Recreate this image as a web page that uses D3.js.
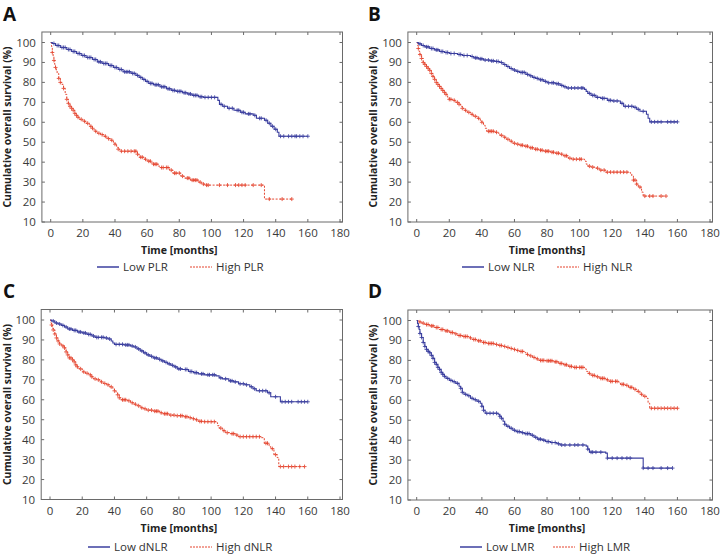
<!DOCTYPE html>
<html>
<head>
<meta charset="utf-8">
<script src="https://cdn.jsdelivr.net/npm/d3@7"></script>
<style>
  body { margin: 0; background: #fff; }
  svg { display: block; font-family: "Open Sans", sans-serif; }
</style>
</head>
<body>
<div id="chart"></div>
<script>
// tick values
var xTicks = [0, 20, 40, 60, 80, 100, 120, 140, 160, 180];
var yTicks = [10, 20, 30, 40, 50, 60, 70, 80, 90, 100];

// Kaplan-Meier steps: [month, survival %]
var lowPLR = [[0,100],[1,99.5],[3,98.5],[6,97.5],[10,96.5],[13,95.5],[16,94.5],[19,93.5],[22,92.5],[26,91.5],[29,90.3],[32,89.5],[36,88.5],[39,87.5],[42,86.5],[45,85.3],[50,84.5],[53,83.5],[55,82.5],[57,81.5],[59,80.5],[61,79.5],[64,78.8],[68,77.8],[72,76.8],[75,76],[78,75.5],[82,74.8],[85,74.2],[88,73.5],[92,72.8],[95,72.5],[104,71],[105,69],[107,68],[110,67],[114,66],[118,65],[121,64.2],[126,63.5],[128,62],[133,61],[135,59.5],[137,58],[139,56.5],[141,55],[142,53],[160,53]];
var highPLR = [[0,100],[0.5,98],[1,95],[1.5,93],[2,91],[2.5,89],[3,87.5],[3.5,86],[4,84.5],[5,82],[6,80],[7,79],[8,77],[9,74],[10,71.5],[11,69.5],[12,68],[13,67],[14,66],[15,64.5],[16,63.5],[17,62.5],[18,61.5],[20,60.5],[22,59.5],[24,58],[26,57],[27,55.5],[29,54.5],[31,53.8],[33,53],[35,51.8],[37,51],[39,50],[40,49],[41,47.5],[42,46.5],[43,45.5],[54,44],[55,42.5],[58,41.5],[60,40.5],[63,39],[67,38],[68,37.3],[74,36],[76,34.5],[81,33],[83,32],[87,31],[92,30],[94,29],[96,28.5],[133,21.5],[150,21.5]];
var lowNLR = [[0,100],[1,99.3],[3,98.5],[5,97.8],[8,97],[11,96.3],[14,95.5],[17,95],[20,94.5],[25,94],[28,93.5],[33,93],[35,92.3],[38,91.8],[41,91.2],[45,90.8],[48,90.5],[51,90],[53,89],[55,88],[57,87],[59,86.2],[61,85.5],[63,85],[67,84],[69,83.3],[71,82.5],[73,82],[75,81.3],[78,80.5],[80,79.8],[85,79.3],[88,78.5],[90,77.8],[92,77.2],[103,76.5],[104,75.5],[105,74.5],[107,73.5],[110,72.5],[113,72],[117,71],[120,70.7],[125,69.5],[127,68],[133,67.5],[135,66.5],[137,65.5],[141,64],[142,62],[143,60.2],[160,60.2]];
var highNLR = [[0,100],[0.5,98.5],[1,97],[1.5,95.5],[2,94],[3,92],[4,90],[5,89],[6,88],[7,87],[8,86],[9,84.5],[10,83],[11,81.5],[12,80],[13,79],[14,78],[15,77],[16,76],[17,75],[18,74],[19,72.5],[20,71.5],[22,71],[24,70],[26,69],[27,68],[28,67],[29,66],[31,65],[33,64],[35,63],[37,62],[39,61],[40,60],[41,58.5],[42,57],[43,55.5],[48,55],[50,54.5],[51,53.5],[53,52.5],[55,51.5],[57,50.5],[59,49.5],[61,49],[63,48.5],[66,48],[69,47.2],[72,46.5],[75,46],[78,45.5],[82,45],[85,44.5],[88,44],[90,43.2],[93,42],[95,41.5],[103,40.5],[104,39],[105,38],[107,37.5],[110,37],[112,36],[116,35],[131,34.5],[132,33],[133,31],[135,29],[136,27.5],[138,25],[139,23],[153,23]];
var lowDNLR = [[0,100],[1,99.5],[3,98.5],[5,98],[7,97.3],[9,96.5],[11,95.5],[14,94.8],[17,94],[20,93.5],[23,92.8],[26,92],[28,91.3],[34,91],[36,90.5],[38,89.5],[39,88.5],[40,87.8],[46,87.5],[50,87],[52,86.5],[54,85.5],[56,84.5],[58,83.5],[60,82.5],[62,81.8],[64,81],[67,80.3],[69,79.5],[71,78.8],[73,78],[75,77.3],[77,76.5],[79,75.5],[82,75.2],[86,74.2],[89,73.6],[92,73],[96,72.5],[103,72],[105,71],[107,70.5],[111,69.5],[114,69],[117,68],[121,67.5],[124,66.5],[126,65.5],[128,64.5],[135,63.5],[137,61.5],[143,59],[160,59]];
var highDNLR = [[0,100],[0.5,98.5],[1,97.5],[1.5,96],[2,95],[3,93],[4,91],[5,89.5],[6,88],[7,87],[9,86],[10,84],[11,82.5],[12,81],[14,80],[15,79],[16,77.5],[17,76.5],[18,75.5],[20,74],[22,73.3],[24,72.5],[26,71.5],[27,70.5],[29,70],[31,69],[33,68.2],[35,67.5],[37,66.5],[39,65.5],[40,64.5],[41,63.5],[42,62.5],[43,61],[44,60],[48,59.5],[50,58.5],[52,57.8],[54,57],[56,56],[58,55.5],[60,54.8],[64,54.3],[68,53.5],[70,53],[74,52.3],[78,52],[83,51.5],[86,51],[88,50.5],[90,50],[92,49.2],[95,49],[103,48.5],[104,47],[105,45.8],[107,44.5],[109,43.5],[112,43],[115,42.3],[117,41.5],[131,41],[133,38.2],[136,36.5],[137,35.5],[139,32.5],[141,31],[142,26.5],[158,26.5]];
var lowLMR = [[0,100],[0.5,98.5],[1,97],[1.5,95.5],[2,93.5],[3,91.5],[4,89],[5,87],[6,85.5],[7,84.5],[8,83.8],[9,82.5],[10,81],[11,79],[12,78],[13,76.5],[14,75.5],[15,74],[16,73],[17,72],[18,71],[20,70],[22,69.3],[24,68.5],[26,67],[27,66],[28,64],[29,63],[31,62.3],[33,61],[35,60.3],[37,59.5],[39,58.5],[40,57],[41,55],[42,53.5],[50,53],[51,52],[52,51],[53,49.5],[54,48],[55,47],[57,46],[59,45],[61,44.3],[64,43.8],[66,43.3],[70,42.5],[72,41.5],[74,40.5],[77,40],[79,39.3],[82,38.8],[86,38.2],[88,37.6],[104,37],[105,35.5],[106,34],[116,33.5],[117,31],[139,26],[157,26]];
var highLMR = [[0,100],[1,99.3],[3,98.7],[5,98],[8,97.3],[11,96.5],[14,95.5],[17,94.8],[20,94],[23,93.3],[25,92.5],[28,92],[32,91.3],[34,90.5],[37,89.8],[40,89],[43,88.5],[48,88],[50,87.5],[53,87],[55,86.5],[57,86],[59,85.5],[61,85],[63,84.5],[66,84],[67,83],[69,82.3],[71,81.5],[73,80.8],[75,80],[79,79.8],[84,79.3],[87,78.5],[90,77.8],[93,77],[96,76.5],[103,75.8],[104,74.5],[105,73.5],[107,72.5],[110,71.8],[112,71],[116,70.3],[118,69.5],[124,69],[125,68],[128,67.5],[130,66.5],[133,65.5],[135,64.5],[137,63],[139,62],[141,61],[142,58.5],[143,56],[160,56]];

// censored observations (months)
var lowPLRCens = [2,4,5,7,8,9,11,12,14,15,17,18,20,21,23,24,25,27,28,30,31,33,34,35,37,38,40,41,43,44,46,47,48,49,51,52,54,56,58,60,62,63,65,66,67,69,70,71,73,74,76,77,79,80,81,83,84,86,87,89,90,91,93,94,96,98,100,102,106,108,111,113,116,117,119,120,123,124,127,130,131,134,136,138,140,143,145,148,150,152,153,155,157,160];
var highPLRCens = [1,2,3,5,6,8,10,11,12,13,14,15,16,17,19,21,23,25,26,28,30,32,34,36,38,40,42,44,46,48,50,52,53,54,56,57,59,61,62,64,65,66,69,70,72,73,75,77,78,80,82,85,86,88,89,90,91,93,95,97,98,105,110,115,117,119,121,126,131,136,144,150];
var lowNLRCens = [2,4,6,7,9,10,12,13,15,16,18,19,21,23,26,27,29,31,34,36,37,39,40,42,44,46,47,49,50,52,54,56,58,60,62,64,65,66,68,70,72,74,76,77,79,81,83,84,86,87,89,91,93,95,97,99,101,102,106,108,109,111,114,115,118,119,121,123,126,128,130,132,134,136,139,144,146,148,150,154,156,158,160];
var highNLRCens = [1,2,3,4,5,6,7,8,9,10,11,12,13,14,15,16,17,18,20,21,23,25,26,28,30,32,34,36,38,40,44,45,46,47,49,52,54,56,58,60,62,64,65,67,68,70,71,73,74,76,77,79,80,81,83,84,86,87,89,91,92,94,96,98,100,101,106,108,111,113,115,117,119,121,123,125,127,129,133,134,135,137,140,143,145,150,153];
var lowDNLRCens = [2,4,6,8,10,12,13,15,16,18,19,21,22,24,25,27,29,30,32,33,35,37,41,43,45,47,48,49,51,53,55,57,59,61,63,65,66,68,70,72,74,76,78,80,81,84,85,87,88,90,91,94,95,98,99,101,102,106,109,112,113,115,118,120,122,125,127,130,132,134,136,140,144,146,148,150,154,156,158,160];
var highDNLRCens = [1,2,3,4,5,6,8,9,10,11,12,13,14,15,16,17,19,21,23,25,26,28,30,32,34,36,38,40,42,43,45,46,47,49,51,53,55,57,59,61,63,65,66,67,69,71,72,73,75,77,79,81,82,84,85,87,89,91,93,94,96,98,100,102,106,108,110,113,114,116,118,120,122,124,126,128,130,134,135,138,140,143,145,148,150,152,155,158];
var lowLMRCens = [1,2,3,4,5,6,7,8,9,10,11,12,13,14,15,16,17,19,21,23,25,27,28,30,32,34,36,38,40,41,43,45,47,49,51,52,54,56,58,60,62,63,65,67,68,69,71,73,75,76,78,80,81,83,85,87,89,91,94,97,99,102,105,107,108,110,113,117,120,123,126,129,131,139,142,145,150,154,157];
var highLMRCens = [2,4,6,7,9,10,12,13,15,16,18,19,21,22,24,26,27,29,30,31,33,35,36,38,39,41,42,44,45,46,47,49,51,52,54,56,58,60,62,64,65,68,70,72,74,76,77,78,80,81,82,83,85,86,88,89,91,92,94,95,97,98,100,101,102,106,108,109,111,113,114,115,117,119,120,122,123,126,127,129,131,132,134,136,138,140,144,146,148,150,152,154,156,158,160];

var blue = "#3b3f9f";
var red = "#e5452f";

var panels = [
  { label: "A", x0: 50.7, span: 289.3, bottom: 222, lx: 3, ly: 21, tx: 10.5,
    low: lowPLR, lowC: lowPLRCens, high: highPLR, highC: highPLRCens,
    lowName: "Low PLR", highName: "High PLR", lowColor: blue, highColor: red,
    leg: [97, 190], legY: 267 },
  { label: "B", x0: 416.7, span: 293.3, bottom: 222, lx: 368, ly: 21, tx: 376.5,
    low: lowNLR, lowC: lowNLRCens, high: highNLR, highC: highNLRCens,
    lowName: "Low NLR", highName: "High NLR", lowColor: blue, highColor: red,
    leg: [462, 557], legY: 267 },
  { label: "C", x0: 50, span: 290, bottom: 499.5, lx: 3, ly: 298, tx: 10.5,
    low: lowDNLR, lowC: lowDNLRCens, high: highDNLR, highC: highDNLRCens,
    lowName: "Low dNLR", highName: "High dNLR", lowColor: blue, highColor: red,
    leg: [88, 190], legY: 547 },
  { label: "D", x0: 416.7, span: 293.3, bottom: 500, lx: 368, ly: 298, tx: 376.5,
    low: lowLMR, lowC: lowLMRCens, high: highLMR, highC: highLMRCens,
    lowName: "Low LMR", highName: "High LMR", lowColor: blue, highColor: red,
    leg: [460, 553], legY: 547 }
];

var svg = d3.select("#chart").append("svg")
    .attr("width", 720)
    .attr("height", 554);

function survAt(steps, t) {
  var s = steps[0][1];
  steps.forEach(function (d) { if (d[0] <= t) s = d[1]; });
  return s;
}

panels.forEach(function (p) {
  var g = svg.append("g");
  var x = d3.scaleLinear().domain([0, 180]).range([p.x0, p.x0 + p.span]);
  var y = d3.scaleLinear().domain([10, 100]).range([p.bottom, p.bottom - 179.5]);
  var left = p.x0 - 8.8, right = p.x0 + p.span + 2.5, top = p.bottom - 190;

  // frame
  g.append("rect")
      .attr("x", left).attr("y", top)
      .attr("width", right - left).attr("height", p.bottom - top)
      .attr("fill", "none").attr("stroke", "#6a6a6a").attr("stroke-width", 1);

  // inward ticks on all four sides
  xTicks.forEach(function (t) {
    g.append("line").attr("x1", x(t)).attr("x2", x(t))
        .attr("y1", p.bottom).attr("y2", p.bottom - 3).attr("stroke", "#6a6a6a");
    g.append("line").attr("x1", x(t)).attr("x2", x(t))
        .attr("y1", top).attr("y2", top + 3).attr("stroke", "#6a6a6a");
    g.append("text").attr("x", x(t)).attr("y", p.bottom + 15)
        .attr("text-anchor", "middle").attr("font-size", "11.5px").attr("fill", "#3a3a3a")
        .text(t);
  });
  yTicks.forEach(function (t) {
    g.append("line").attr("x1", left).attr("x2", left + 3)
        .attr("y1", y(t)).attr("y2", y(t)).attr("stroke", "#6a6a6a");
    g.append("line").attr("x1", right).attr("x2", right - 3)
        .attr("y1", y(t)).attr("y2", y(t)).attr("stroke", "#6a6a6a");
    g.append("text").attr("x", left - 6).attr("y", y(t) + 4)
        .attr("text-anchor", "end").attr("font-size", "11.5px").attr("fill", "#3a3a3a")
        .text(t);
  });

  var line = d3.line()
      .x(function (d) { return x(d[0]); })
      .y(function (d) { return y(d[1]); })
      .curve(d3.curveStepAfter);

  function drawCurve(steps, cens, color, dashed) {
    g.append("path")
        .datum(steps)
        .attr("d", line)
        .attr("fill", "none")
        .attr("stroke", color)
        .attr("stroke-width", dashed ? 1 : 1.1)
        .attr("stroke-dasharray", dashed ? "2,1.5" : null);
    g.selectAll(null)
        .data(cens)
        .enter()
        .append("path")
        .attr("d", function (t) {
          var cx = x(t), cy = y(survAt(steps, t));
          return "M" + (cx - 2) + "," + cy + "H" + (cx + 2) + "M" + cx + "," + (cy - 2) + "V" + (cy + 2);
        })
        .attr("stroke", color)
        .attr("stroke-width", 1)
        .attr("opacity", 0.85);
  }

  drawCurve(p.high, p.highC, p.highColor, p.highColor === red);
  drawCurve(p.low, p.lowC, p.lowColor, p.lowColor === red);

  // panel letter
  g.append("text").attr("x", p.lx).attr("y", p.ly)
      .attr("font-size", "19px").attr("font-weight", "bold").attr("fill", "#111")
      .text(p.label);

  // axis titles
  g.append("text")
      .attr("transform", "translate(" + p.tx + "," + (top + p.bottom) / 2 + ") rotate(-90)")
      .attr("text-anchor", "middle").attr("font-size", "10.4px").attr("font-weight", "bold")
      .attr("fill", "#222")
      .text("Cumulative overall survival (%)");
  g.append("text")
      .attr("x", x(80)).attr("y", p.bottom + 32)
      .attr("text-anchor", "middle").attr("font-size", "10.6px").attr("font-weight", "bold")
      .attr("fill", "#222")
      .text("Time [months]");

  // legend
  var items = [
    { name: p.lowName, color: p.lowColor, x: p.leg[0] },
    { name: p.highName, color: p.highColor, x: p.leg[1] }
  ];
  items.forEach(function (it) {
    g.append("line")
        .attr("x1", it.x).attr("x2", it.x + 22)
        .attr("y1", p.legY).attr("y2", p.legY)
        .attr("stroke", it.color)
        .attr("stroke-width", it.color === red ? 1 : 1.5)
        .attr("stroke-dasharray", it.color === red ? "2,1" : null);
    g.append("text")
        .attr("x", it.x + 26).attr("y", p.legY + 4)
        .attr("font-size", "11.5px").attr("fill", "#333")
        .text(it.name);
  });
});
</script>
</body>
</html>
